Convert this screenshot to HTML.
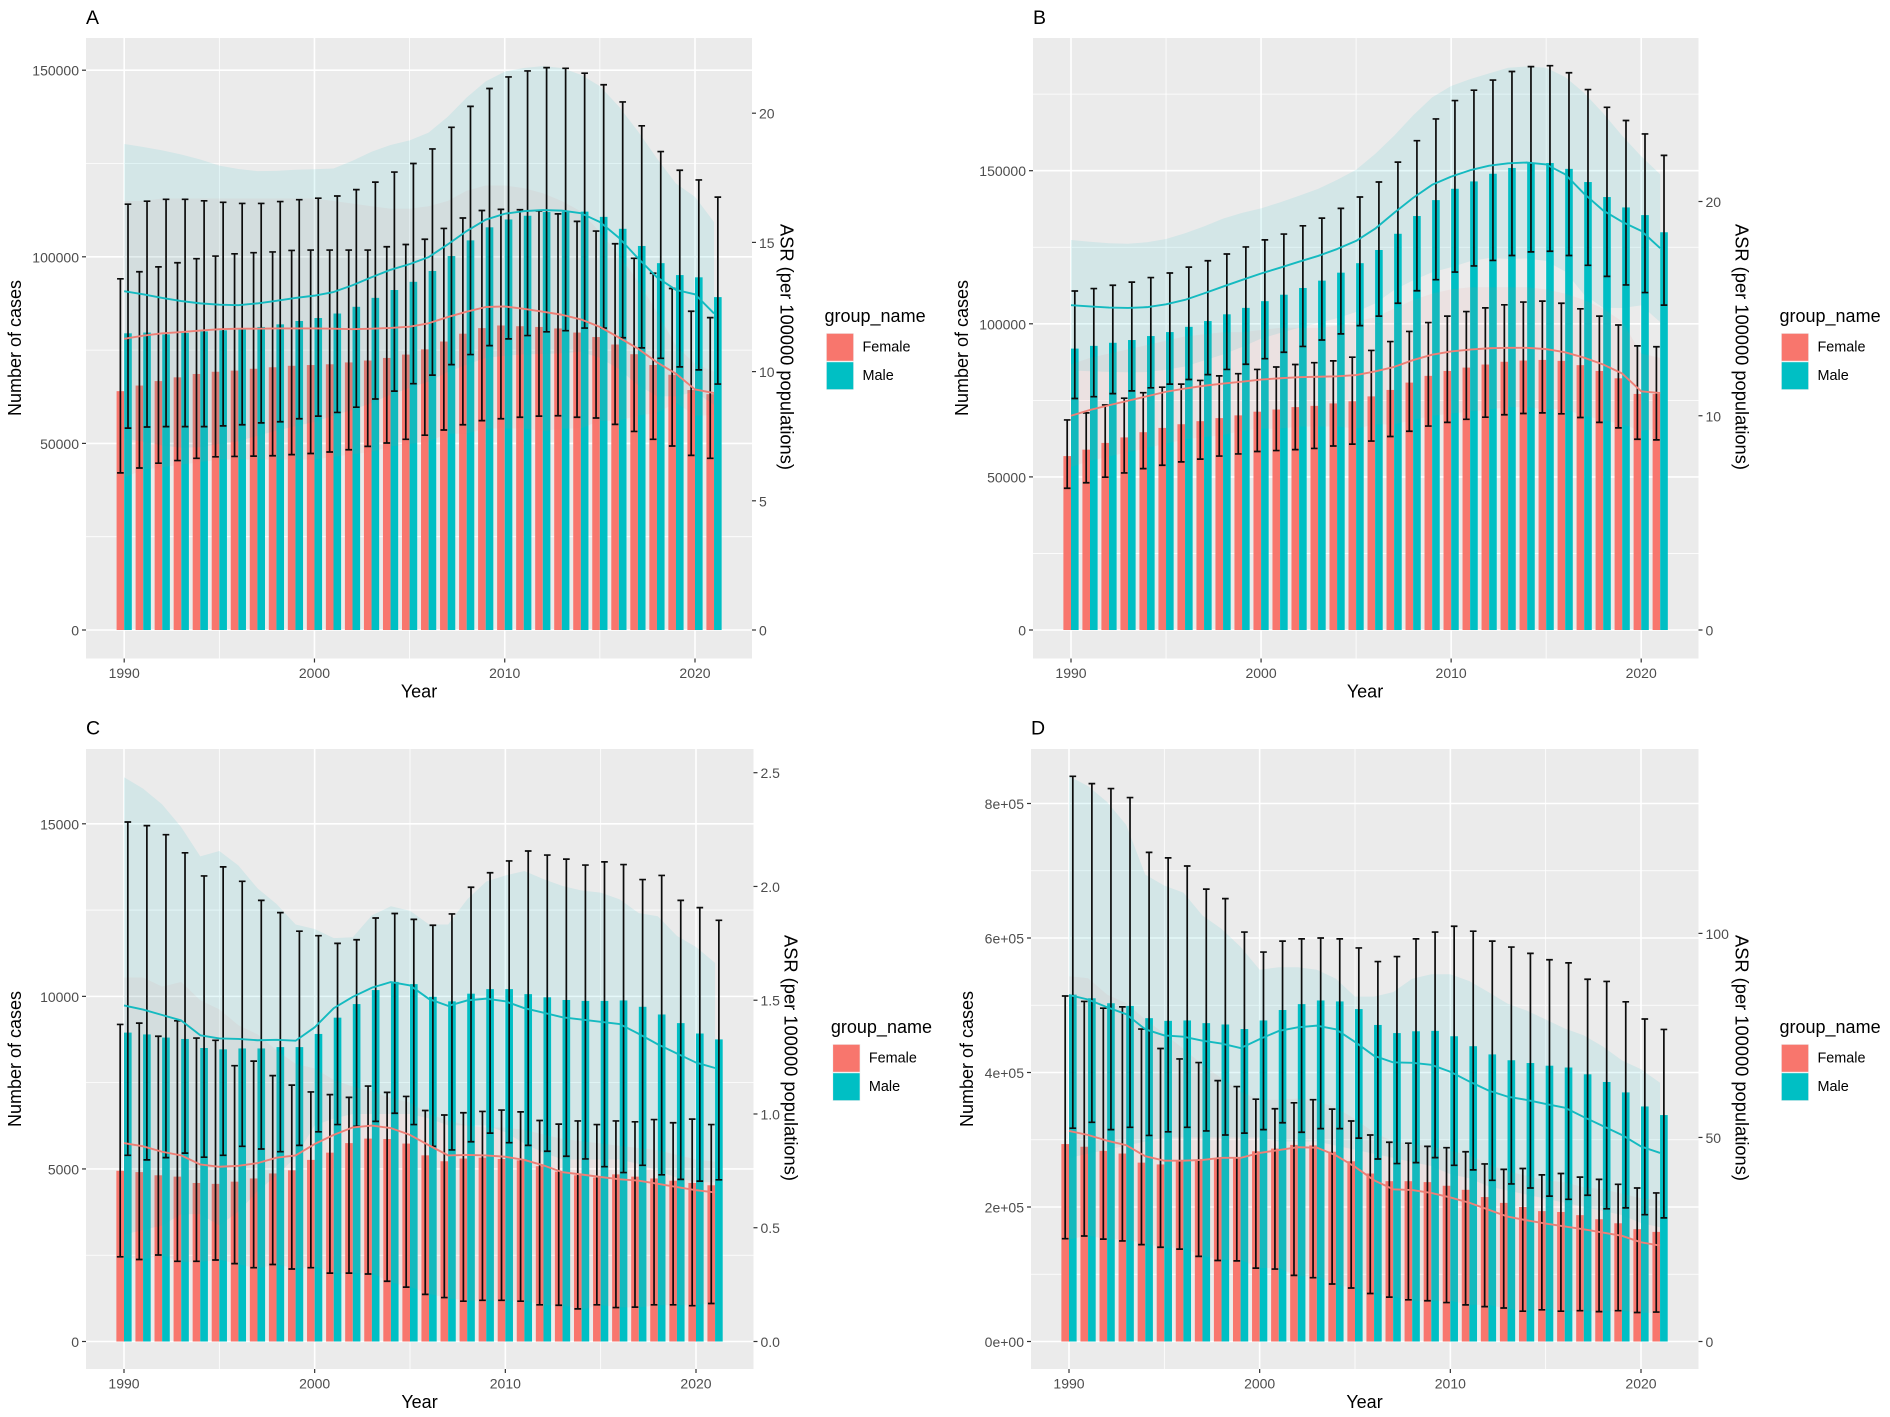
<!DOCTYPE html>
<html lang="en">
<head>
<meta charset="utf-8">
<title>Number of cases and ASR by sex, 1990-2021</title>
<style>
html,body{margin:0;padding:0;background:#fff;}
svg{display:block;}
text{font-family:"Liberation Sans",sans-serif;}
</style>
</head>
<body>
<svg id="figure" xmlns="http://www.w3.org/2000/svg" width="1890" height="1417" viewBox="0 0 1890 1417"></svg>
<script>
const years = [1990,1991,1992,1993,1994,1995,1996,1997,1998,1999,2000,2001,2002,2003,2004,2005,2006,2007,2008,2009,2010,2011,2012,2013,2014,2015,2016,2017,2018,2019,2020,2021];
const xTicks = [1990,2000,2010,2020];
const xMinorTicks = [1995,2005,2015];
const seriesNames = ['Female','Male'];

/* Panel A */
const aFemale = [64000,65500,66700,67700,68600,69200,69500,70000,70400,70800,71000,71200,71700,72200,72900,73800,75200,77300,79400,80900,81600,81400,81200,80800,79700,78500,76500,73900,71000,68400,64300,63200];
const aMale = [79500,79700,79200,79600,80000,80300,80700,81200,81900,82800,83600,84800,86600,89000,91100,93300,96200,100200,104400,107900,110000,111000,112000,112100,112100,110700,107500,102900,98300,95100,94500,89200];
const aFemaleHi = [94100,96000,97300,98400,99500,100200,100800,101100,101300,101700,101800,101800,101800,101800,102700,103300,104700,107600,110400,112400,112700,112600,112300,111500,109500,106900,103500,99600,95600,91500,85400,83700];
const aFemaleLo = [42100,43400,44700,45400,46000,46400,46500,46600,46700,47000,47300,47700,48300,49200,50100,51100,52200,53600,55000,56100,56600,57000,57300,57400,57000,56800,55100,53200,51100,49300,46800,46000];
const aMaleHi = [114100,114900,115400,115400,115000,114600,114300,114300,114800,115300,115700,116300,118000,120000,122700,125000,128900,134700,140300,145100,148200,149800,150700,150500,149200,146100,141500,135100,128200,123200,120600,116000];
const aMaleLo = [54100,54400,54500,54500,54500,54700,55000,55500,55800,56600,57300,58300,59700,61900,64000,66000,68300,71100,73800,76200,78000,78900,79900,80200,80900,80900,78300,75600,72800,70500,69700,65900];
const aFemaleAsr = [11.27,11.39,11.48,11.53,11.59,11.64,11.66,11.66,11.67,11.67,11.67,11.66,11.64,11.66,11.69,11.74,11.87,12.11,12.32,12.50,12.52,12.43,12.32,12.20,12.02,11.73,11.32,10.89,10.36,9.92,9.31,9.17];
const aMaleAsr = [13.11,12.99,12.85,12.73,12.64,12.59,12.57,12.64,12.74,12.85,12.94,13.08,13.34,13.65,13.94,14.16,14.43,14.92,15.44,15.88,16.11,16.21,16.25,16.23,16.13,15.79,15.18,14.39,13.65,13.16,12.99,12.25];
const aMaleBandUp = [18.81,18.69,18.56,18.40,18.21,17.97,17.84,17.76,17.77,17.81,17.83,17.86,18.16,18.51,18.77,18.95,19.25,19.86,20.61,21.23,21.61,21.75,21.82,21.75,21.49,21.05,20.26,19.30,18.25,17.28,16.76,15.79];
const aMaleBandLo = [7.41,7.29,7.14,7.06,7.07,7.21,7.30,7.52,7.71,7.89,8.05,8.30,8.52,8.79,9.11,9.37,9.61,9.98,10.27,10.53,10.61,10.67,10.68,10.71,10.77,10.53,10.10,9.48,9.05,9.04,9.22,8.71];
const aFemaleBandUp = [16.6,16.6,16.7,16.7,16.7,16.7,16.7,16.7,16.7,16.7,16.7,16.6,16.5,16.4,16.3,16.3,16.4,16.6,17.0,17.2,17.2,17.1,16.9,16.6,16.2,15.4,14.5,13.5,12.3,11.0,10.3,10.0];
const aFemaleBandLo = [5.9,6.2,6.3,6.4,6.5,6.6,6.6,6.6,6.6,6.6,6.6,6.7,6.8,6.9,7.1,7.2,7.3,7.6,7.6,7.8,7.8,7.8,7.7,7.8,7.8,8.1,8.1,8.3,8.4,8.8,8.3,8.3];
const aLeftTicks = [0,50000,100000,150000];
const aLeftLabels = ['0','50000','100000','150000'];
const aLeftMinor = [25000,75000,125000];
const aRightTicks = [0,5,10,15,20];
const aRightLabels = ['0','5','10','15','20'];

/* Panel B */
const bFemale = [56800,58900,61100,62900,64600,66000,67200,68200,69200,70100,71300,72000,72800,73200,74000,74700,76300,78400,80800,83000,84600,85700,86700,87600,88000,88200,87900,86500,84600,82200,77100,77100];
const bMale = [91900,92800,93800,94700,96000,97300,99000,100900,103100,105200,107400,109500,111700,114100,116700,119800,124100,129400,135200,140400,144100,146500,149000,150900,152400,152500,150600,146300,141400,138000,135500,129900];
const bFemaleHi = [68600,70900,73500,75700,77500,79300,80300,81500,83000,83700,85100,85900,86700,87300,87900,89100,91300,94200,97500,100400,102500,104000,105200,106200,107100,107400,106700,104900,102500,99600,92800,92500];
const bFemaleLo = [46300,48100,49900,51300,52700,53800,54900,55800,56800,57500,58300,58600,58900,59300,60100,60700,61700,63200,64900,66600,67800,68800,69500,70300,70700,70900,70600,69400,67800,66000,62300,62100];
const bMaleHi = [110700,111500,112600,113600,115100,116600,118500,120600,122800,125100,127400,129300,132000,134500,137700,141400,146300,152800,159800,166900,172900,176300,179600,182400,184000,184300,182000,176500,170700,166400,162000,155000];
const bMaleLo = [75600,76200,77200,78100,79100,80300,81800,83400,85100,86800,88600,90700,92600,94700,96700,99400,102500,106700,110800,114400,116900,118900,120700,122300,123500,123700,122300,119100,115500,112700,110200,106100];
const bFemaleAsr = [10.00,10.27,10.49,10.70,10.91,11.12,11.27,11.40,11.50,11.59,11.69,11.75,11.80,11.82,11.84,11.90,12.07,12.28,12.60,12.85,13.00,13.09,13.15,13.17,13.17,13.11,12.96,12.71,12.39,11.97,11.14,11.06];
const bMaleAsr = [15.16,15.10,15.05,15.03,15.07,15.20,15.41,15.71,16.03,16.34,16.64,16.91,17.19,17.46,17.78,18.16,18.73,19.47,20.17,20.78,21.16,21.46,21.67,21.78,21.82,21.73,21.27,20.36,19.58,19.05,18.63,17.82];
const bMaleBandUp = [18.20,18.12,18.05,18.03,18.10,18.25,18.52,18.84,19.20,19.47,19.68,19.96,20.27,20.59,21.01,21.48,22.22,23.07,24.02,24.86,25.39,25.71,25.98,26.24,26.30,26.24,25.81,25.07,24.12,23.07,22.11,21.27];
const bMaleBandLo = [12.12,12.08,12.05,12.03,12.04,12.15,12.30,12.58,12.86,13.21,13.60,13.86,14.11,14.33,14.55,14.84,15.24,15.87,16.32,16.70,16.93,17.21,17.36,17.32,17.34,17.22,16.73,15.65,15.04,15.03,15.15,14.37];
const bFemaleBandUp = [12.4,12.7,12.9,13.1,13.3,13.5,13.7,13.8,13.9,13.9,14.0,14.1,14.1,14.1,14.2,14.4,14.6,15.0,15.4,15.7,15.9,16.0,16.0,16.0,16.0,15.9,15.7,15.4,15.0,14.4,12.9,12.7];
const bFemaleBandLo = [7.6,7.9,8.1,8.3,8.5,8.7,8.9,9.0,9.1,9.3,9.4,9.4,9.5,9.5,9.5,9.4,9.6,9.6,9.8,10.0,10.1,10.2,10.3,10.4,10.4,10.3,10.3,10.0,9.8,9.6,9.3,9.4];
const bLeftTicks = [0,50000,100000,150000];
const bLeftLabels = ['0','50000','100000','150000'];
const bLeftMinor = [25000,75000,125000,175000];
const bRightTicks = [0,10,20];
const bRightLabels = ['0','10','20'];

/* Panel C */
const cFemale = [4947,4908,4816,4777,4593,4567,4632,4724,4869,4960,5262,5472,5748,5879,5866,5735,5394,5223,5302,5328,5289,5249,5079,4921,4816,4751,4842,4777,4724,4659,4593,4527];
const cMale = [8950,8897,8806,8766,8504,8464,8491,8491,8530,8530,8911,9383,9777,10183,10420,10354,9987,9855,10078,10210,10210,10065,9973,9895,9868,9868,9882,9698,9475,9225,8924,8753];
const cFemaleHi = [9186,9225,8845,9291,8792,8727,7992,8123,7703,7428,7231,7152,7073,7401,7218,7100,6693,6562,6627,6666,6706,6653,6404,6299,6391,6286,6391,6365,6430,6338,6443,6286];
const cFemaleLo = [2454,2375,2506,2323,2323,2362,2257,2139,2231,2100,2139,1982,1982,1955,1745,1575,1365,1273,1168,1194,1194,1168,1063,1050,945,1063,984,997,1063,1063,1037,1102];
const cMaleHi = [15052,14947,14685,14160,13490,13753,13333,12782,12427,11889,11758,11535,11640,12270,12401,12231,12060,12388,13162,13582,13924,14212,14094,13976,13805,13897,13819,13385,13504,12782,12572,12204];
const cMaleLo = [5394,5262,5328,5459,5341,5394,5656,5577,5499,5682,6076,6286,6233,6378,6614,6286,5656,5551,5787,6037,5761,5682,5512,5367,5289,5065,4895,5105,4829,4698,4646,4685];
const cFemaleAsr = [0.872,0.858,0.834,0.818,0.778,0.768,0.772,0.784,0.808,0.818,0.868,0.908,0.941,0.949,0.938,0.908,0.862,0.818,0.820,0.818,0.812,0.798,0.774,0.744,0.734,0.723,0.713,0.707,0.693,0.679,0.665,0.655];
const cMaleAsr = [1.477,1.459,1.435,1.411,1.346,1.332,1.330,1.324,1.326,1.322,1.381,1.465,1.515,1.555,1.580,1.565,1.505,1.475,1.499,1.507,1.495,1.465,1.445,1.425,1.415,1.405,1.395,1.352,1.306,1.266,1.226,1.202];
const cMaleBandUp = [2.480,2.430,2.361,2.261,2.132,2.156,2.092,1.992,1.923,1.833,1.813,1.773,1.777,1.873,1.913,1.893,1.833,1.833,1.943,2.022,2.048,2.068,2.032,2.002,1.982,1.973,1.943,1.883,1.869,1.783,1.734,1.664];
const cMaleBandLo = [0.47,0.49,0.51,0.56,0.56,0.51,0.57,0.66,0.73,0.81,0.95,0.98,1.0,1.0,1.0,1.0,0.98,0.95,0.95,0.95,0.92,0.87,0.83,0.80,0.80,0.80,0.80,0.78,0.75,0.72,0.70,0.70];
const cFemaleBandUp = [1.60,1.60,1.56,1.58,1.50,1.46,1.39,1.35,1.28,1.22,1.20,1.15,1.12,1.10,1.07,1.05,1.00,0.97,0.95,0.94,0.94,0.93,0.91,0.89,0.88,0.87,0.86,0.85,0.84,0.82,0.80,0.79];
const cFemaleBandLo = [0.37,0.36,0.38,0.35,0.35,0.36,0.34,0.32,0.34,0.32,0.33,0.30,0.30,0.30,0.26,0.24,0.21,0.19,0.18,0.18,0.18,0.18,0.16,0.16,0.14,0.16,0.15,0.15,0.16,0.16,0.16,0.17];
const cLeftTicks = [0,5000,10000,15000];
const cLeftLabels = ['0','5000','10000','15000'];
const cLeftMinor = [2500,7500,12500];
const cRightTicks = [0,0.5,1,1.5,2,2.5];
const cRightLabels = ['0.0','0.5','1.0','1.5','2.0','2.5'];

/* Panel D */
const dFemale = [293600,289600,283500,279500,266000,263300,268700,270000,272100,273400,282800,286900,292300,291600,282200,268000,249800,238400,238400,237000,231600,225600,214800,206100,200000,193900,192600,187900,181800,175800,167000,163000];
const dMale = [515800,510400,503000,499000,480800,476800,477400,473400,471400,464600,477400,492900,501700,507100,505700,494300,470700,458600,461300,461900,453900,439100,426900,418200,414100,410100,407400,397300,385900,370400,349500,336700];
const dFemaleHi = [513800,505700,495600,497600,464600,435700,420200,414800,387900,379100,360300,346100,354900,359600,345500,327900,307100,296300,294900,290200,288200,282200,264000,255900,257200,247800,249800,244400,241100,233700,228300,220900];
const dFemaleLo = [152900,156900,152200,149500,144100,140100,137400,126600,120500,119900,109100,107700,98300,94900,85500,79500,71400,66000,62000,60600,57900,54500,51900,49800,45100,47100,45100,45800,44400,45800,43100,43800];
const dMaleHi = [840400,829600,822200,808800,727300,719200,707100,672700,658600,608800,579100,595300,598700,600000,598700,585200,565000,572400,598700,608800,617500,610100,595300,586500,577100,567700,563000,538700,535400,505100,479500,464000];
const dMaleLo = [317200,325900,315100,318500,306400,311800,318500,313100,307100,309800,315100,325300,311100,316500,316500,302400,271400,264600,266000,273400,262000,255200,239700,234300,228300,216200,211400,217500,197300,198700,188600,183800];
const dFemaleAsr = [51.6,50.6,49.2,48.1,45.4,44.3,44.3,44.5,45.0,45.0,46.2,46.9,47.6,47.5,45.6,42.8,39.5,37.3,37.1,36.4,35.3,34.0,32.3,30.6,29.7,28.9,28.2,27.5,26.7,25.9,24.3,23.5];
const dMaleAsr = [84.9,83.8,81.9,80.2,76.5,75.0,74.7,73.7,73.0,71.9,74.1,76.1,77.0,77.4,76.5,73.4,70.0,68.4,68.3,67.8,66.1,63.7,61.5,60.0,59.2,58.2,57.3,55.0,52.8,50.6,47.8,46.2];
const dMaleBandUp = [138.5,136.1,132.2,126.6,114.4,111.7,110.0,104.4,101.1,96.7,91.1,91.7,91.7,91.1,88.9,84.5,84.5,85.6,88.9,90.0,90.0,88.3,85.6,82.8,81.1,78.9,76.7,75.0,72.3,68.9,66.7,63.4];
const dMaleBandLo = [45,46,47,48,49,50,50,50,50,50,50,49,49,49,48,47,46,45,44,43,41,40,38,37,36,35,34,33,32,31,29,28];
const dFemaleBandUp = [89.5,89,85,82.9,78.9,75.4,71.7,67.8,64.5,61.2,59.2,59.2,59.5,58.9,57.3,54.5,51.2,49,48.4,47.8,46.7,45.6,43.4,41.7,40.6,39.5,39,37.8,37.3,36.2,35.1,34.5];
const dFemaleBandLo = [25,26,25,25,24,23,23,21,20,20,18,18,16,16,14,13,12,11,10,10,10,9,9,8,7.5,8,7.5,7.5,7.5,7.5,7,7];
const dLeftTicks = [0,200000,400000,600000,800000];
const dLeftLabels = ['0e+00','2e+05','4e+05','6e+05','8e+05'];
const dLeftMinor = [100000,300000,500000,700000];
const dRightTicks = [0,50,100];
const dRightLabels = ['0','50','100'];

const FEMALE = '#F8766D';
const MALE = '#00BFC4';
const NS = 'http://www.w3.org/2000/svg';
const root = document.getElementById('figure');

function mk(parent, tag, attrs, name) {
  const el = document.createElementNS(NS, tag);
  for (const k in attrs) el.setAttribute(k, attrs[k]);
  
  
  parent.appendChild(el);
  return el;
}
function label(parent, x, y, str, size, fill, anchor, rot, name) {
  const a = {x: x, y: y, 'font-size': size, fill: fill, 'text-anchor': anchor, 'dominant-baseline': 'central'};
  if (rot) a.transform = 'rotate(' + rot + ' ' + x + ' ' + y + ')';
  const t = mk(parent, 'text', a, name);
  t.textContent = str;
  return t;
}
function polyPath(pts) {
  return pts.map((p, i) => (i ? 'L' : 'M') + p[0].toFixed(2) + ' ' + p[1].toFixed(2)).join(' ');
}

function drawPanel(cfg) {
  const g = mk(root, 'g', {}, 'panel-' + cfg.tag.toLowerCase());
  const sx = v => cfg.x1990 + (v - 1990) * (cfg.x2020 - cfg.x1990) / 30;
  const sy = v => cfg.zeroY - v * cfg.pxPerCount;
  const sr = v => cfg.zeroY - v * cfg.pxPerAsr;

  label(g, cfg.left, cfg.tagY + 1, cfg.tag, 19.5, '#000', 'start', 0, 'panel-tag');
  mk(g, 'rect', {x: cfg.left, y: cfg.top, width: cfg.right - cfg.left, height: cfg.bottom - cfg.top, fill: '#EBEBEB'}, 'plot-background');

  /* grid */
  cfg.leftMinor.forEach(v => {
    mk(g, 'line', {x1: cfg.left, x2: cfg.right, y1: sy(v), y2: sy(v), stroke: '#fff', 'stroke-width': 0.8}, 'minor-gridline-y');
  });
  xMinorTicks.forEach(v => {
    mk(g, 'line', {x1: sx(v), x2: sx(v), y1: cfg.top, y2: cfg.bottom, stroke: '#fff', 'stroke-width': 0.8}, 'minor-gridline-x');
  });
  cfg.leftTicks.forEach(v => {
    mk(g, 'line', {x1: cfg.left, x2: cfg.right, y1: sy(v), y2: sy(v), stroke: '#fff', 'stroke-width': 1.6}, 'major-gridline-y');
  });
  xTicks.forEach(v => {
    mk(g, 'line', {x1: sx(v), x2: sx(v), y1: cfg.top, y2: cfg.bottom, stroke: '#fff', 'stroke-width': 1.6}, 'major-gridline-x');
  });

  /* bars */
  const unit = (cfg.x2020 - cfg.x1990) / 30;
  years.forEach((yr, i) => {
    const fTop = sy(cfg.female[i]);
    mk(g, 'rect', {x: sx(yr - 0.4), y: fTop, width: unit * 0.4, height: sy(0) - fTop, fill: FEMALE}, 'bar-female-' + yr);
    const mTop = sy(cfg.male[i]);
    mk(g, 'rect', {x: sx(yr), y: mTop, width: unit * 0.4, height: sy(0) - mTop, fill: MALE}, 'bar-male-' + yr);
  });

  /* ribbons */
  function band(up, lo, fill, opacity, name) {
    const pts = years.map((yr, i) => [sx(yr), sr(up[i])]);
    for (let i = years.length - 1; i >= 0; i--) pts.push([sx(years[i]), sr(lo[i])]);
    mk(g, 'path', {d: polyPath(pts) + ' Z', fill: fill, 'fill-opacity': opacity}, name);
  }
  band(cfg.femaleBandUp, cfg.femaleBandLo, FEMALE, 0.08, 'ribbon-female');
  band(cfg.maleBandUp, cfg.maleBandLo, MALE, 0.1, 'ribbon-male');

  /* error bars */
  function errs(hi, lo, off, name) {
    years.forEach((yr, i) => {
      const x = sx(yr + off);
      const cap = unit * 0.175;
      mk(g, 'path', {
        d: 'M' + (x - cap) + ' ' + sy(hi[i]) + ' H' + (x + cap) + ' M' + x + ' ' + sy(hi[i]) + ' V' + sy(lo[i]) + ' M' + (x - cap) + ' ' + sy(lo[i]) + ' H' + (x + cap),
        fill: 'none', stroke: '#0c0c0c', 'stroke-width': 1.7
      }, name + '-' + yr);
    });
  }
  errs(cfg.femaleHi, cfg.femaleLo, -0.2, 'errorbar-female');
  errs(cfg.maleHi, cfg.maleLo, 0.2, 'errorbar-male');

  /* ASR lines */
  function asrLine(vals, color, name) {
    mk(g, 'path', {d: polyPath(years.map((yr, i) => [sx(yr), sr(vals[i])])), fill: 'none', stroke: color, 'stroke-width': 1.9, 'stroke-linejoin': 'round'}, name);
  }
  asrLine(cfg.femaleAsr, '#EE7F76', 'asr-line-female');
  asrLine(cfg.maleAsr, '#14BAC0', 'asr-line-male');

  /* axes */
  cfg.leftTicks.forEach((v, i) => {
    mk(g, 'line', {x1: cfg.left - 4, x2: cfg.left, y1: sy(v), y2: sy(v), stroke: '#333', 'stroke-width': 1.2}, 'y-axis-tick');
    label(g, cfg.left - 7, sy(v) + 0.5, cfg.leftLabels[i], 14, '#4D4D4D', 'end', 0, 'y-axis-tick-label');
  });
  cfg.rightTicks.forEach((v, i) => {
    mk(g, 'line', {x1: cfg.right, x2: cfg.right + 4, y1: sr(v), y2: sr(v), stroke: '#333', 'stroke-width': 1.2}, 'secondary-y-axis-tick');
    label(g, cfg.right + 7, sr(v) + 0.5, cfg.rightLabels[i], 14, '#4D4D4D', 'start', 0, 'secondary-y-axis-tick-label');
  });
  xTicks.forEach(v => {
    mk(g, 'line', {x1: sx(v), x2: sx(v), y1: cfg.bottom, y2: cfg.bottom + 4, stroke: '#333', 'stroke-width': 1.2}, 'x-axis-tick');
    label(g, sx(v), cfg.bottom + 14.5, String(v), 14, '#4D4D4D', 'middle', 0, 'x-axis-tick-label');
  });
  label(g, cfg.yearX, cfg.bottom + 33, 'Year', 18, '#000', 'middle', 0, 'x-axis-title');
  label(g, cfg.leftTitleX, cfg.titleY, 'Number of cases', 18, '#000', 'middle', -90, 'y-axis-title');
  label(g, cfg.rightTitleX, cfg.titleY - 1, 'ASR (per 100000 populations)', 18.3, '#000', 'middle', 90, 'secondary-y-axis-title');

  /* legend */
  const lg = mk(g, 'g', {}, 'legend');
  label(lg, cfg.legendX - 1.5, cfg.legendY, 'group_name', 18, '#000', 'start', 0, 'legend-title');
  seriesNames.forEach((nm, i) => {
    const ky = cfg.legendY + 17 + i * 28.5;
    mk(lg, 'rect', {x: cfg.legendX, y: ky, width: 28, height: 28.5, fill: '#F2F2F2'}, 'legend-key-background');
    mk(lg, 'rect', {x: cfg.legendX + 0.7, y: ky + 0.7, width: 26.6, height: 27.1, fill: i ? MALE : FEMALE}, 'legend-swatch-' + nm.toLowerCase());
    label(lg, cfg.legendX + 36.5, ky + 14.3, nm, 14.4, '#000', 'start', 0, 'legend-label-' + nm.toLowerCase());
  });
}

drawPanel({tag: 'A', left: 86, right: 752, top: 38, bottom: 658.5, tagY: 17, x1990: 124.2, x2020: 695, zeroY: 630,
  pxPerCount: (630 - 70.2) / 150000, pxPerAsr: (630 - 113.2) / 20,
  yearX: 419, leftTitleX: 15, rightTitleX: 787, titleY: 348, legendX: 826, legendY: 316,
  female: aFemale, male: aMale, femaleHi: aFemaleHi, femaleLo: aFemaleLo, maleHi: aMaleHi, maleLo: aMaleLo,
  femaleAsr: aFemaleAsr, maleAsr: aMaleAsr, maleBandUp: aMaleBandUp, maleBandLo: aMaleBandLo, femaleBandUp: aFemaleBandUp, femaleBandLo: aFemaleBandLo,
  leftTicks: aLeftTicks, leftLabels: aLeftLabels, leftMinor: aLeftMinor, rightTicks: aRightTicks, rightLabels: aRightLabels});

drawPanel({tag: 'B', left: 1033, right: 1698.5, top: 38, bottom: 658.5, tagY: 17, x1990: 1071, x2020: 1641.2, zeroY: 630,
  pxPerCount: (630 - 170.7) / 150000, pxPerAsr: (630 - 201.5) / 20,
  yearX: 1365, leftTitleX: 962, rightTitleX: 1742, titleY: 348, legendX: 1781, legendY: 316,
  female: bFemale, male: bMale, femaleHi: bFemaleHi, femaleLo: bFemaleLo, maleHi: bMaleHi, maleLo: bMaleLo,
  femaleAsr: bFemaleAsr, maleAsr: bMaleAsr, maleBandUp: bMaleBandUp, maleBandLo: bMaleBandLo, femaleBandUp: bFemaleBandUp, femaleBandLo: bFemaleBandLo,
  leftTicks: bLeftTicks, leftLabels: bLeftLabels, leftMinor: bLeftMinor, rightTicks: bRightTicks, rightLabels: bRightLabels});

drawPanel({tag: 'C', left: 86, right: 753.5, top: 749, bottom: 1369, tagY: 727.5, x1990: 124, x2020: 696, zeroY: 1341.5,
  pxPerCount: (1341.5 - 823.8) / 15000, pxPerAsr: (1341.5 - 772.7) / 2.5,
  yearX: 419.5, leftTitleX: 15, rightTitleX: 791, titleY: 1059, legendX: 832.4, legendY: 1027,
  female: cFemale, male: cMale, femaleHi: cFemaleHi, femaleLo: cFemaleLo, maleHi: cMaleHi, maleLo: cMaleLo,
  femaleAsr: cFemaleAsr, maleAsr: cMaleAsr, maleBandUp: cMaleBandUp, maleBandLo: cMaleBandLo, femaleBandUp: cFemaleBandUp, femaleBandLo: cFemaleBandLo,
  leftTicks: cLeftTicks, leftLabels: cLeftLabels, leftMinor: cLeftMinor, rightTicks: cRightTicks, rightLabels: cRightLabels});

drawPanel({tag: 'D', left: 1031, right: 1698.5, top: 749, bottom: 1369, tagY: 727.5, x1990: 1069, x2020: 1641, zeroY: 1341.5,
  pxPerCount: (1341.5 - 803.5) / 800000, pxPerAsr: (1341.5 - 933.4) / 100,
  yearX: 1364.5, leftTitleX: 967, rightTitleX: 1742, titleY: 1059, legendX: 1781, legendY: 1027,
  female: dFemale, male: dMale, femaleHi: dFemaleHi, femaleLo: dFemaleLo, maleHi: dMaleHi, maleLo: dMaleLo,
  femaleAsr: dFemaleAsr, maleAsr: dMaleAsr, maleBandUp: dMaleBandUp, maleBandLo: dMaleBandLo, femaleBandUp: dFemaleBandUp, femaleBandLo: dFemaleBandLo,
  leftTicks: dLeftTicks, leftLabels: dLeftLabels, leftMinor: dLeftMinor, rightTicks: dRightTicks, rightLabels: dRightLabels});
</script>
</body>
</html>
